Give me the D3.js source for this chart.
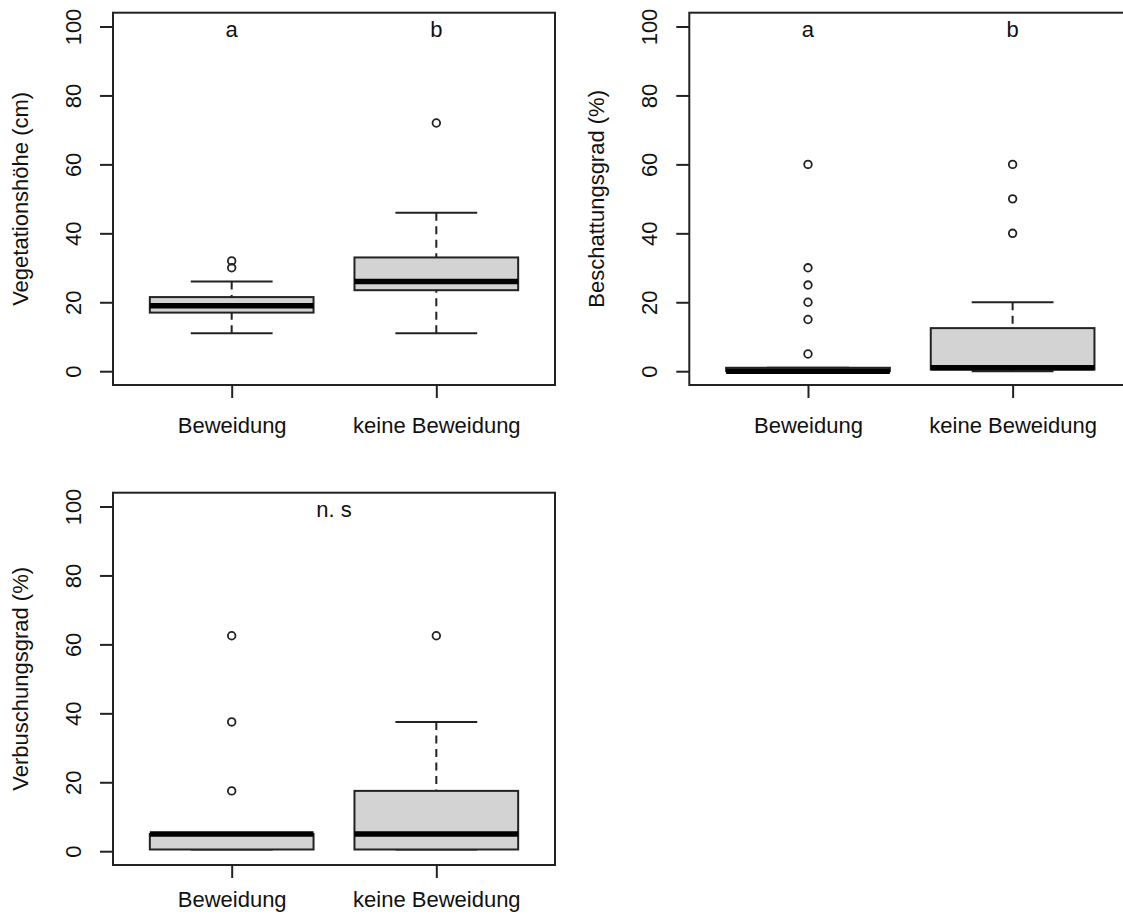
<!DOCTYPE html>
<html>
<head>
<meta charset="utf-8">
<script src="https://cdn.jsdelivr.net/npm/d3@7"></script>
<style>
  html, body { margin: 0; padding: 0; background: #fff; }
  svg { display: block; }
  text { font-family: "Liberation Sans", Arial, Helvetica, sans-serif; fill: #111; }
</style>
</head>
<body>
<svg id="chart" width="1123" height="920"></svg>
<script>
// Grazing groups shown on every panel
const groups = ["Beweidung", "keine Beweidung"];
const yTicks = [0, 20, 40, 60, 80, 100];

// Box statistics per group: [lower whisker, Q1, median, Q3, upper whisker]
const heightStats = [[11, 17, 19, 21.5, 26], [11, 23.5, 26, 33, 46]];
const heightOutliers = [[30, 32], [72]];
const heightLetters = ["a", "b"];

const shadeStats = [[0, 0, 0, 1, 1], [0, 0.5, 1, 12.5, 20]];
const shadeOutliers = [[5, 15, 20, 25, 30, 60], [40, 50, 60]];
const shadeLetters = ["a", "b"];

const shrubStats = [[0.5, 0.5, 5, 5, 5], [0.5, 0.5, 5, 17.5, 37.5]];
const shrubOutliers = [[17.5, 37.5, 62.5], [62.5]];
const shrubNote = "n. s";

const yTitles = ["Vegetationshöhe (cm)", "Beschattungsgrad (%)", "Verbuschungsgrad (%)"];

const svg = d3.select("#chart");
const LINE = "#222";
const LW = 2;

// Frame geometry of each panel
const panels = [
  { left: 113, top: 12.7, stats: heightStats, outliers: heightOutliers, letters: heightLetters, title: yTitles[0], labelY: 48 },
  { left: 689.3, top: 12.7, stats: shadeStats, outliers: shadeOutliers, letters: shadeLetters, title: yTitles[1], labelY: 48 },
  { left: 113, top: 492.7, stats: shrubStats, outliers: shrubOutliers, note: shrubNote, title: yTitles[2], labelY: 42 }
];
const W = 442, H = 372.3;

panels.forEach(p => {
  const g = svg.append("g");
  const x = d3.scaleLinear().domain([0.42, 2.58]).range([p.left, p.left + W]);
  const y = d3.scaleLinear().domain([-4, 104]).range([p.top + H, p.top]);

  // y axis with rotated tick labels
  const ya = g.append("g")
    .attr("transform", `translate(${p.left},0)`)
    .call(d3.axisLeft(y).tickValues(yTicks).tickSize(13).tickFormat(d3.format("d")));
  ya.select(".domain").remove();
  ya.selectAll(".tick line").attr("stroke", LINE).attr("stroke-width", LW);
  ya.selectAll(".tick text")
    .attr("x", null).attr("dy", null)
    .attr("transform", "translate(-32,0) rotate(-90)")
    .style("text-anchor", "middle")
    .style("font-size", "22px")
    .style("font-family", "'Liberation Sans', Arial, sans-serif")
    .attr("fill", "#111");

  // x axis with group names
  const xa = g.append("g")
    .attr("transform", `translate(0,${p.top + H})`)
    .call(d3.axisBottom(x).tickValues([1, 2]).tickSize(13).tickFormat(d => groups[d - 1]));
  xa.select(".domain").remove();
  xa.selectAll(".tick line").attr("stroke", LINE).attr("stroke-width", LW);
  xa.selectAll(".tick text")
    .attr("y", p.labelY).attr("dy", null)
    .style("font-size", "22px")
    .style("font-family", "'Liberation Sans', Arial, sans-serif")
    .attr("fill", "#111");

  // y axis title
  g.append("text")
    .attr("transform", `translate(${p.left - 85},${p.top + H / 2}) rotate(-90)`)
    .attr("text-anchor", "middle")
    .style("font-size", "22px")
    .text(p.title);

  // boxes
  p.stats.forEach((s, i) => {
    const cx = i + 1;
    const [lo, q1, med, q3, hi] = s;
    // whiskers, dashed from the staple towards the box
    [[lo, q1], [hi, q3]].forEach(([a, b]) => {
      if (a !== b) {
        g.append("line")
          .attr("x1", x(cx)).attr("x2", x(cx))
          .attr("y1", y(a)).attr("y2", y(b))
          .attr("stroke", LINE).attr("stroke-width", LW)
          .attr("stroke-dasharray", "8,5.5");
      }
    });
    // staples
    [lo, hi].forEach(v => {
      g.append("line")
        .attr("x1", x(cx - 0.2)).attr("x2", x(cx + 0.2))
        .attr("y1", y(v)).attr("y2", y(v))
        .attr("stroke", LINE).attr("stroke-width", LW);
    });
    // box
    g.append("rect")
      .attr("x", x(cx - 0.4)).attr("width", x(cx + 0.4) - x(cx - 0.4))
      .attr("y", y(q3)).attr("height", y(q1) - y(q3))
      .attr("fill", "#d3d3d3").attr("stroke", LINE).attr("stroke-width", LW);
    // median
    g.append("line")
      .attr("x1", x(cx - 0.4)).attr("x2", x(cx + 0.4))
      .attr("y1", y(med)).attr("y2", y(med))
      .attr("stroke", "#000").attr("stroke-width", 5.5);
    // outliers
    p.outliers[i].forEach(v => {
      g.append("circle")
        .attr("cx", x(cx)).attr("cy", y(v)).attr("r", 3.8)
        .attr("fill", "none").attr("stroke", LINE).attr("stroke-width", 1.8);
    });
  });

  // significance letters
  if (p.letters) {
    p.letters.forEach((t, i) => {
      g.append("text")
        .attr("x", x(i + 1)).attr("y", y(100) + 11)
        .attr("text-anchor", "middle")
        .style("font-size", "22px")
        .text(t);
    });
  }
  if (p.note) {
    g.append("text")
      .attr("x", x(1.5)).attr("y", y(100) + 11)
      .attr("text-anchor", "middle")
      .style("font-size", "22px")
      .text(p.note);
  }

  // plot frame
  g.append("rect")
    .attr("x", p.left).attr("y", p.top).attr("width", W).attr("height", H)
    .attr("fill", "none").attr("stroke", LINE).attr("stroke-width", LW);
});
</script>
</body>
</html>
